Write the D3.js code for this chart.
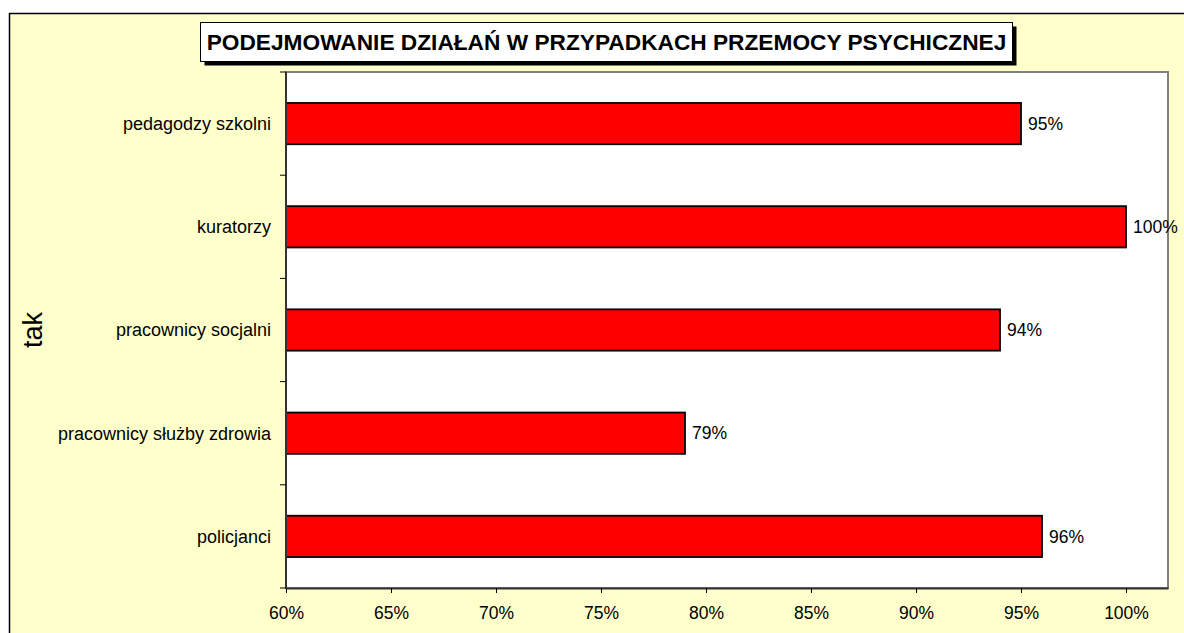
<!DOCTYPE html>
<html>
<head>
<meta charset="utf-8">
<script src="https://cdn.jsdelivr.net/npm/d3@7"></script>
<style>
  body { margin: 0; background: #fff; }
  svg { display: block; }
</style>
</head>
<body>
<div id="chart"></div>
<script>
// data
const categories = ["pedagodzy szkolni", "kuratorzy", "pracownicy socjalni", "pracownicy służby zdrowia", "policjanci"];
const values = [0.95, 1.00, 0.94, 0.79, 0.96];
const xTicks = [0.60, 0.65, 0.70, 0.75, 0.80, 0.85, 0.90, 0.95, 1.00];
const titleText = "PODEJMOWANIE DZIAŁAŃ W PRZYPADKACH PRZEMOCY PSYCHICZNEJ";
const yTitle = "tak";

const width = 1184, height = 633;
const margin = { top: 72, left: 286, right: 16, bottom: 45 };
const font = "Arial, 'Liberation Sans', sans-serif";

const svg = d3.select("#chart").append("svg")
  .attr("width", width)
  .attr("height", height);

// outer chart area
svg.append("rect")
  .attr("x", 9.5).attr("y", 13.5)
  .attr("width", width + 20).attr("height", height + 20)
  .attr("fill", "#ffffcc")
  .attr("stroke", "#000").attr("stroke-width", 1.5);

const x = d3.scaleLinear()
  .domain([0.60, 1.02])
  .range([margin.left, width - margin.right]);

const y = d3.scaleBand()
  .domain(categories)
  .range([margin.top, height - margin.bottom])
  .paddingInner(0.6)
  .paddingOuter(0.3);

// plot area
svg.append("rect")
  .attr("x", margin.left).attr("y", margin.top)
  .attr("width", width - margin.right - margin.left)
  .attr("height", height - margin.bottom - margin.top)
  .attr("fill", "#fff")
  .attr("stroke", "#808080").attr("stroke-width", 2);

// bars
svg.append("g").selectAll("rect")
  .data(categories)
  .enter().append("rect")
  .attr("x", x(0.60))
  .attr("y", d => y(d))
  .attr("width", (d, i) => x(values[i]) - x(0.60))
  .attr("height", y.bandwidth())
  .attr("fill", "#ff0000")
  .attr("stroke", "#000").attr("stroke-width", 1.8);

// value labels
svg.append("g").selectAll("text")
  .data(categories)
  .enter().append("text")
  .attr("x", (d, i) => x(values[i]) + 7)
  .attr("y", d => y(d) + y.bandwidth() / 2)
  .attr("dy", "0.35em")
  .attr("font-family", font)
  .attr("font-size", "17.5px")
  .attr("fill", "#000")
  .text((d, i) => Math.round(values[i] * 100) + "%");

// x axis
const xAxis = svg.append("g")
  .attr("transform", `translate(0,${height - margin.bottom})`)
  .call(d3.axisBottom(x).tickValues(xTicks).tickFormat(d3.format(".0%")).tickSize(5).tickSizeOuter(0));
xAxis.select(".domain").attr("stroke", "#333").attr("stroke-width", 2);
xAxis.selectAll(".tick line").attr("stroke", "#000");
xAxis.selectAll("text")
  .attr("font-family", font)
  .attr("font-size", "17.5px")
  .attr("fill", "#000")
  .attr("y", 19);

// y axis: ticks between categories
const yBounds = d3.range(categories.length + 1).map(i => margin.top + (height - margin.bottom - margin.top) * i / categories.length);
const yAxisG = svg.append("g");
yAxisG.append("line")
  .attr("x1", margin.left).attr("x2", margin.left)
  .attr("y1", margin.top).attr("y2", height - margin.bottom + 1)
  .attr("stroke", "#333").attr("stroke-width", 2);
yAxisG.selectAll(".ytick")
  .data(yBounds)
  .enter().append("line")
  .attr("x1", margin.left - 6).attr("x2", margin.left)
  .attr("y1", d => d).attr("y2", d => d)
  .attr("stroke", "#000");

// category labels
svg.append("g").selectAll("text")
  .data(categories)
  .enter().append("text")
  .attr("x", margin.left - 15)
  .attr("y", d => y(d) + y.bandwidth() / 2)
  .attr("dy", "0.35em")
  .attr("text-anchor", "end")
  .attr("font-family", font)
  .attr("font-size", "18px")
  .attr("fill", "#000")
  .text(d => d);

// y title
svg.append("text")
  .attr("transform", `translate(42,${(margin.top + height - margin.bottom) / 2}) rotate(-90)`)
  .attr("text-anchor", "middle")
  .attr("font-family", font)
  .attr("font-size", "27px")
  .attr("fill", "#000")
  .text(yTitle);

// title box with shadow
const tb = { x: 200.5, y: 22.5, w: 812, h: 39 };
svg.append("rect")
  .attr("x", tb.x + 4).attr("y", tb.y + 4)
  .attr("width", tb.w).attr("height", tb.h)
  .attr("fill", "#000");
svg.append("rect")
  .attr("x", tb.x).attr("y", tb.y)
  .attr("width", tb.w).attr("height", tb.h)
  .attr("fill", "#fff")
  .attr("stroke", "#000").attr("stroke-width", 1);
svg.append("text")
  .attr("x", tb.x + tb.w / 2)
  .attr("y", tb.y + tb.h / 2)
  .attr("dy", "0.36em")
  .attr("text-anchor", "middle")
  .attr("font-family", font)
  .attr("font-weight", "bold")
  .attr("font-size", "22.7px")
  .attr("fill", "#000")
  .text(titleText);
</script>
</body>
</html>
